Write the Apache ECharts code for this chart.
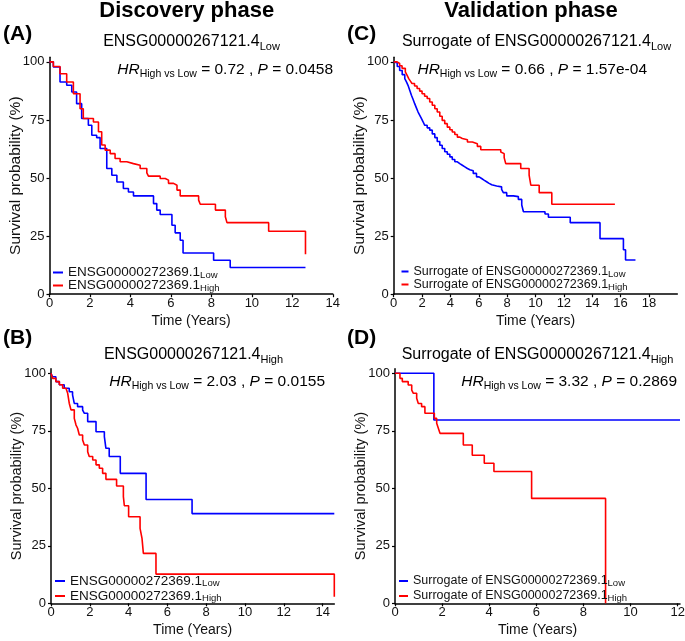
<!DOCTYPE html>
<html><head><meta charset="utf-8">
<script src="https://cdn.jsdelivr.net/npm/echarts@6/dist/echarts.min.js"></script>
<style>html,body{margin:0;padding:0;background:#fff}#c{width:685px;height:641px}</style>
</head><body><div id="c"></div>
<script>
// ---------------- DATA ----------------
// Panel A (Discovery, ENSG00000267121.4 Low)
const aLowT  = [0, 0.19, 0.52, 0.85, 1.1, 1.34, 1.59, 1.92, 2.09, 2.33, 2.5, 2.83, 3.08, 3.33, 3.65, 3.9, 4.15, 5.14, 5.3, 5.47, 6.05, 6.21, 6.46, 6.6, 8.11, 8.93, 12.65];
const aLowS  = [100, 97.8, 91.3, 89.9, 87, 82, 75.6, 72.7, 68.4, 67.4, 62.7, 54.1, 51.2, 48.3, 45.5, 44, 42.3, 39, 36.2, 34.3, 29.7, 26.4, 23.2, 17.7, 14.6, 11.5, 11.5];
const aHighT = [0, 0.19, 0.52, 0.85, 1.18, 1.51, 1.67, 2.17, 2.42, 2.58, 2.75, 3.0, 3.24, 3.49, 3.82, 4.15, 4.48, 4.81, 4.89, 5.47, 5.72, 5.88, 6.13, 6.3, 6.46, 7.37, 7.45, 8.2, 8.69, 8.77, 10.83, 12.65];
const aHighS = [100, 98, 94.9, 91.3, 86.3, 79.8, 75.6, 74.1, 69.9, 64.2, 62, 60.5, 58.4, 57, 56.2, 55.5, 54.1, 52.2, 50.8, 49.8, 49.1, 47.7, 46.9, 44.8, 42.3, 40.5, 38.7, 36.2, 33.3, 30.8, 27.1, 17.2];
// Panel B (Discovery, ENSG00000267121.4 High)
const bLowT  = [0, 0.08, 0.25, 0.43, 0.68, 0.94, 1.11, 1.2, 1.37, 1.63, 1.72, 1.89, 2.32, 2.75, 2.83, 3.0, 3.57, 4.9, 7.27, 14.6];
const bLowS  = [100, 98.5, 96.4, 95, 93.5, 92, 90.6, 86.9, 85.5, 84, 82.6, 79, 74.6, 72.5, 67.4, 63.8, 56.5, 45.1, 39, 39];
const bHighT = [0, 0.08, 0.25, 0.43, 0.6, 0.77, 0.86, 0.94, 1.03, 1.2, 1.29, 1.37, 1.46, 1.63, 1.72, 1.89, 1.97, 2.15, 2.32, 2.49, 2.66, 2.83, 3.38, 3.73, 3.78, 4.0, 4.59, 4.69, 4.76, 5.41, 14.6];
const bHighS = [100, 97.8, 96.4, 95, 93.5, 92.8, 91.3, 87, 84.1, 80.4, 77.5, 76.1, 73.2, 71, 68.8, 65.9, 63.8, 62.3, 60.2, 58.7, 56.5, 53.9, 51, 46.4, 42.4, 37.6, 32.6, 28.2, 21.7, 12.7, 2.9];
// Panel C (Validation, Surrogate of ENSG00000267121.4 Low)
const cLowT  = [0, 0.1, 0.25, 0.42, 0.6, 0.78, 0.9, 1.01, 1.13, 1.25, 1.37, 1.48, 1.6, 1.72, 1.84, 1.96, 2.08, 2.19, 2.36, 2.54, 2.72, 2.9, 3.07, 3.25, 3.42, 3.6, 3.78, 3.96, 4.13, 4.31, 4.49, 4.66, 4.84, 5.02, 5.2, 5.37, 5.61, 5.84, 6.02, 6.2, 6.37, 6.55, 6.73, 6.91, 7.26, 7.61, 7.73, 7.97, 8.44, 8.79, 9.03, 9.15, 10.67, 10.91, 12.45, 14.55, 16.2, 16.35, 17.05];
const cLowS  = [100, 99.5, 98, 96.3, 94.5, 92.8, 91.4, 89.9, 87.8, 85.6, 83.8, 82, 80.2, 78.4, 77, 75.6, 74.1, 72.7, 71.6, 70.6, 69, 67.4, 65.7, 64.1, 62.7, 61.3, 60.2, 59.1, 58, 57, 56.2, 55.5, 54.8, 54.1, 53.6, 53.1, 52, 50.5, 49.8, 49.1, 48.4, 47.7, 47.1, 46.6, 46.2, 45.1, 43.7, 42.3, 42, 40.8, 38.4, 35.5, 34.5, 33.1, 30.8, 23.9, 19.1, 14.7, 14.7];
const cHighT = [0, 0.24, 0.42, 0.59, 0.82, 0.94, 1.06, 1.18, 1.29, 1.47, 1.65, 1.83, 2.0, 2.18, 2.36, 2.54, 2.72, 2.9, 3.07, 3.25, 3.42, 3.6, 3.78, 3.96, 4.13, 4.31, 4.49, 4.66, 4.84, 5.2, 5.55, 5.9, 6.14, 7.55, 7.67, 7.79, 7.9, 8.96, 9.55, 9.67, 10.26, 11.15, 15.6];
const cHighS = [100, 99.3, 98.3, 97.2, 95.7, 94.3, 92.8, 91.7, 90.7, 89.6, 88.5, 87.4, 86.3, 85.2, 84.2, 82.7, 81.3, 79.8, 78.4, 76.6, 74.8, 73.4, 71.9, 70.8, 69.8, 68.7, 67.6, 67, 66.5, 65.5, 64.8, 63.6, 62.2, 61.2, 60.5, 58.8, 56.2, 54.1, 51.2, 46.9, 43.7, 38.7, 38.7];
// Panel D (Validation, Surrogate of ENSG00000267121.4 High)
const dLowT  = [0, 1.65, 12.1];
const dLowS  = [100, 79.7, 79.7];
const dHighT = [0, 0.21, 0.31, 0.56, 0.71, 0.78, 0.92, 0.99, 1.13, 1.27, 1.67, 1.77, 1.84, 1.91, 2.9, 3.28, 3.79, 4.2, 5.8, 8.94];
const dHighS = [100, 97.8, 96.4, 94.9, 92.7, 91.3, 89.1, 86.9, 85.5, 82.6, 80.4, 78.3, 76.1, 73.9, 68.8, 64.4, 60.9, 57.3, 45.6, 0];

// Tick labels
const yTicks  = [0, 25, 50, 75, 100];
const xTicksA = [0, 2, 4, 6, 8, 10, 12, 14];
const xTicksB = [0, 2, 4, 6, 8, 10, 12, 14];
const xTicksC = [0, 2, 4, 6, 8, 10, 12, 14, 16, 18];
const xTicksD = [0, 2, 4, 6, 8, 10, 12];

// Texts
const phaseTitles = ['Discovery phase', 'Validation phase'];
const panelLabels = ['(A)', '(B)', '(C)', '(D)'];
const subMain = ['ENSG00000267121.4', 'ENSG00000267121.4', 'Surrogate of ENSG00000267121.4', 'Surrogate of ENSG00000267121.4'];
const subSub  = ['Low', 'High', 'Low', 'High'];
const hrVals  = ['0.72', '2.03', '0.66', '3.32'];
const pVals   = ['0.0458', '0.0155', '1.57e-04', '0.2869'];
const legMain = ['ENSG00000272369.1', 'ENSG00000272369.1', 'Surrogate of ENSG00000272369.1', 'Surrogate of ENSG00000272369.1'];
const groupNames = ['Low', 'High'];

// ---------------- BUILD ----------------
const F = 'Liberation Sans, Arial, sans-serif';
const BLUE = '#0000FF', RED = '#FF0000';
const zip = (t, s) => t.map((v, i) => [v, s[i]]);

const panels = [
  {grid: {left: 49.5, top: 57.2, width: 283.3, height: 237}, xmax: 14,   xt: xTicksA, low: zip(aLowT, aLowS), high: zip(aHighT, aHighS), yfs: 15.5, ygap: 26},
  {grid: {left: 51,   top: 368.7, width: 283.3, height: 234.6}, xmax: 14.6, xt: xTicksB, low: zip(bLowT, bLowS), high: zip(bHighT, bHighS), yfs: 14.5, ygap: 26.3},
  {grid: {left: 393.7, top: 57.2, width: 283.6, height: 237}, xmax: 20,   xt: xTicksC, low: zip(cLowT, cLowS), high: zip(cHighT, cHighS), yfs: 15.5, ygap: 25.5},
  {grid: {left: 395,  top: 368.7, width: 285, height: 234.6}, xmax: 12.1, xt: xTicksD, low: zip(dLowT, dLowS), high: zip(dHighT, dHighS), yfs: 14.5, ygap: 26.3}
];
const legendCfg = [
  {left: 53, top: 265, iw: 10, gap: -2, fs: 13.5},
  {left: 55, top: 573.5, iw: 10, gap: 0, fs: 13.5},
  {left: 401.5, top: 264, iw: 7, gap: -2, fs: 12.5},
  {left: 399, top: 573.5, iw: 9, gap: 0, fs: 12.5}
];
const subPos = [[191.5, 30], [193.5, 343], [536.5, 30], [537.5, 343]];
const hrPos  = [[333, 57.5], [325, 370], [647, 58], [677, 370]];
const labPos = [[3, 34], [3, 338], [347, 34], [347, 338]];

const grid = [], xAxis = [], yAxis = [], series = [], legend = [];
const legendText = {};
panels.forEach((p, i) => {
  grid.push(Object.assign({outerBoundsMode: 'none', containLabel: false}, p.grid));
  xAxis.push({
    type: 'value', gridIndex: i, min: 0, max: p.xmax,
    axisLine: {show: true, onZero: false, lineStyle: {color: '#000', width: 1.5}},
    axisTick: {show: true, length: 3, customValues: p.xt, lineStyle: {color: '#000', width: 1.2}},
    axisLabel: {customValues: p.xt, color: '#111', fontSize: 13, margin: 3, fontFamily: F},
    splitLine: {show: false},
    name: 'Time (Years)', nameLocation: 'middle', nameGap: 20, nameMoveOverlap: false,
    nameTextStyle: {fontSize: 14, color: '#111', fontFamily: F}
  });
  yAxis.push({
    type: 'value', gridIndex: i, min: 0, max: 102,
    axisLine: {show: true, onZero: false, lineStyle: {color: '#000', width: 1.5}},
    axisTick: {show: true, length: 3, customValues: yTicks, lineStyle: {color: '#000', width: 1.2}},
    axisLabel: {customValues: yTicks, color: '#111', fontSize: 13, margin: 5, fontFamily: F},
    splitLine: {show: false},
    name: 'Survival probability (%)', nameLocation: 'middle', nameGap: p.ygap, nameMoveOverlap: false,
    nameTextStyle: {fontSize: p.yfs, color: '#111', fontFamily: F}
  });
  const nLow = 'p' + i + '_low', nHigh = 'p' + i + '_high';
  legendText[nLow]  = '{m|' + legMain[i] + '}{s|' + groupNames[0] + '}';
  legendText[nHigh] = '{m|' + legMain[i] + '}{s|' + groupNames[1] + '}';
  [[nLow, p.low, BLUE], [nHigh, p.high, RED]].forEach(([n, d, c]) => {
    series.push({
      name: n, type: 'line', step: 'end', xAxisIndex: i, yAxisIndex: i, data: d,
      showSymbol: false, symbol: 'none', silent: true, animation: false,
      lineStyle: {color: c, width: 1.6}, itemStyle: {color: c}
    });
  });
  const L = legendCfg[i];
  legend.push({
    orient: 'vertical', left: L.left, top: L.top, padding: 0,
    itemWidth: L.iw, itemHeight: 2, itemGap: L.gap, icon: 'rect', selectedMode: false,
    data: [nLow, nHigh],
    formatter: n => legendText[n],
    textStyle: {
      color: '#111', fontFamily: F,
      rich: {
        m: {fontSize: L.fs, lineHeight: 15, color: '#111', fontFamily: F},
        s: {fontSize: 9.5, lineHeight: 15, padding: [5, 0, 0, 0], color: '#111', fontFamily: F}
      }
    }
  });
});

const graphic = [];
const tt = (x, y, text, align, rich) => ({
  type: 'text', x: x, y: y, silent: true,
  style: {text: text, align: align, verticalAlign: 'top', rich: rich}
});
phaseTitles.forEach((t, i) => {
  graphic.push({type: 'text', x: i === 0 ? 186.7 : 531, y: 11, silent: true,
    style: {text: t, align: 'center', verticalAlign: 'middle', fill: '#000',
      font: 'bold 22px ' + F}});
});
panelLabels.forEach((t, i) => {
  graphic.push({type: 'text', x: labPos[i][0], y: labPos[i][1], silent: true,
    style: {text: t, align: 'left', verticalAlign: 'middle', fill: '#000',
      font: 'bold 21px ' + F}});
});
const subRich = {
  m: {fontSize: 16, lineHeight: 24, fill: '#000', fontFamily: F},
  s: {fontSize: 11, lineHeight: 24, padding: [9, 0, 0, 0], fill: '#000', fontFamily: F}
};
const hrRich = {
  i: {fontSize: 15.5, lineHeight: 24, fontStyle: 'italic', fill: '#000', fontFamily: F},
  m: {fontSize: 15.5, lineHeight: 24, fill: '#000', fontFamily: F},
  s: {fontSize: 10.5, lineHeight: 24, padding: [9, 0, 0, 0], fill: '#000', fontFamily: F}
};
for (let i = 0; i < 4; i++) {
  graphic.push(tt(subPos[i][0], subPos[i][1], '{m|' + subMain[i] + '}{s|' + subSub[i] + '}', 'center', subRich));
  graphic.push(tt(hrPos[i][0], hrPos[i][1],
    '{i|HR}{s|High vs Low}{m| = ' + hrVals[i] + ' , }{i|P}{m| = ' + pVals[i] + '}', 'right', hrRich));
}

const chart = echarts.init(document.getElementById('c'), null, {renderer: 'canvas'});
chart.setOption({
  animation: false,
  backgroundColor: '#fff',
  textStyle: {fontFamily: F},
  grid: grid, xAxis: xAxis, yAxis: yAxis, series: series, legend: legend, graphic: graphic
});
</script></body></html>
